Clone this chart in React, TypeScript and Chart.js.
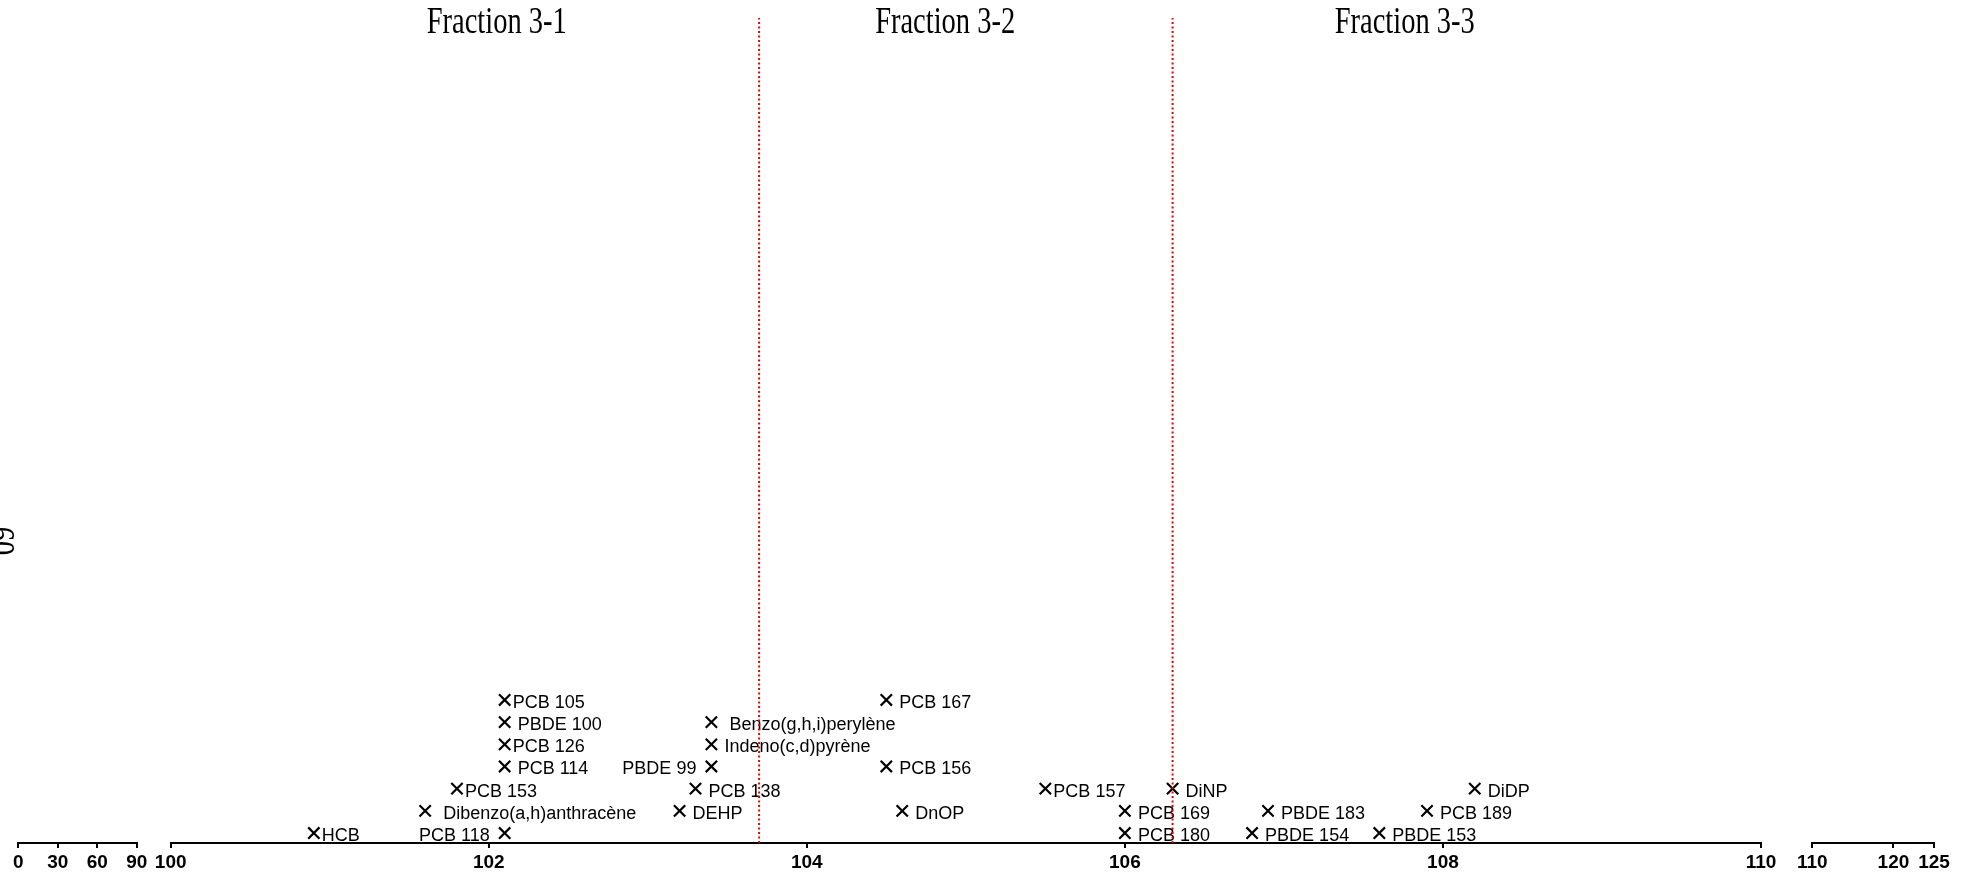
import React, { useEffect, useRef } from 'react';
import { Chart, registerables } from 'chart.js';

Chart.register(...registerables);

// ---------- data ----------
const compounds = [
  'HCB', 'PCB 118', 'Dibenzo(a,h)anthracène', 'PCB 153', 'PCB 114', 'PCB 126', 'PBDE 100', 'PCB 105',
  'DEHP', 'PCB 138', 'PBDE 99', 'Indeno(c,d)pyrène', 'Benzo(g,h,i)perylène', 'PCB 167', 'PCB 156',
  'DnOP', 'PCB 157', 'PCB 169', 'PCB 180', 'DiNP', 'PBDE 154', 'PBDE 183', 'PBDE 153', 'PCB 189', 'DiDP',
];
// label text as printed (leading/trailing spaces kept as in the figure)
const labelTexts = [
  'HCB', 'PCB 118 ', '  Dibenzo(a,h)anthracène', 'PCB 153', ' PCB 114', 'PCB 126', ' PBDE 100', 'PCB 105',
  ' DEHP', ' PCB 138', 'PBDE 99 ', ' Indeno(c,d)pyrène', '  Benzo(g,h,i)perylène', ' PCB 167', ' PCB 156',
  ' DnOP', 'PCB 157', ' PCB 169', ' PCB 180', ' DiNP', ' PBDE 154', ' PBDE 183', ' PBDE 153', ' PCB 189', ' DiDP',
];
const retentionTimes = [
  100.9, 102.1, 101.6, 101.8, 102.1, 102.1, 102.1, 102.1,
  103.2, 103.3, 103.4, 103.4, 103.4, 104.5, 104.5,
  104.6, 105.5, 106.0, 106.0, 106.3, 106.8, 106.9, 107.6, 107.9, 108.2,
];
const rowLevels = [
  1, 1, 2, 3, 4, 5, 6, 7,
  2, 3, 4, 5, 6, 7, 4,
  2, 3, 2, 1, 3, 1, 2, 1, 2, 3,
];
const labelSide = [
  'R', 'L', 'R', 'R', 'R', 'R', 'R', 'R',
  'R', 'R', 'L', 'R', 'R', 'R', 'R',
  'R', 'R', 'R', 'R', 'R', 'R', 'R', 'R', 'R', 'R',
];
const fractionNames = ['Fraction 3-1', 'Fraction 3-2', 'Fraction 3-3'];
const fractionLabelX = [102.05, 104.87, 107.76];
const fractionCuts = [103.7, 106.3];
const ticksLeft = [0, 30, 60, 90];
const ticksMain = [100, 102, 104, 106, 108, 110];
const ticksRight = [110, 120, 125];
const yTitle = '60';
const yRange = [0.55, 37.75];

// ---------- layout ----------
const W = 1978;
const H = 878;
const AXIS_Y = 843;
const TOP = 18;

const SANS = '"Liberation Sans", Arial, Helvetica, sans-serif';
const SERIF = '"Liberation Serif", "Times New Roman", Times, serif';

function xAxis(ticks: number[]) {
  return {
    type: 'linear' as const,
    min: ticks[0],
    max: ticks[ticks.length - 1],
    afterBuildTicks: (s: any) => {
      s.ticks = ticks.map((v) => ({ value: v }));
    },
    afterFit: (s: any) => {
      s.height = H - AXIS_Y;
    },
    grid: {
      display: true,
      drawOnChartArea: false,
      drawTicks: true,
      tickLength: 5,
      lineWidth: 2,
      color: '#000',
    },
    border: { display: true, color: '#000', width: 2 },
    ticks: {
      color: '#000',
      font: { family: SANS, size: 19, weight: 'bold' as const },
      padding: 3,
      maxRotation: 0,
      minRotation: 0,
      autoSkip: false,
    },
  };
}

const yAxis = { type: 'linear' as const, display: false, min: yRange[0], max: yRange[1] };

const textPlugin = {
  id: 'textLabels',
  beforeDatasetsDraw(chart: any) {
    const { ctx, scales } = chart;
    const x = scales.x;
    const y = scales.y;
    ctx.save();
    ctx.fillStyle = '#000';
    ctx.font = `18px ${SANS}`;
    ctx.textBaseline = 'alphabetic';
    compounds.forEach((_, i) => {
      const px = x.getPixelForValue(retentionTimes[i]);
      const py = y.getPixelForValue(rowLevels[i]) + 8;
      if (labelSide[i] === 'L') {
        ctx.textAlign = 'right';
        ctx.fillText(labelTexts[i], px - 10, py);
      } else {
        ctx.textAlign = 'left';
        ctx.fillText(labelTexts[i], px + 8, py);
      }
    });
    ctx.font = `38px ${SERIF}`;
    ctx.textAlign = 'center';
    fractionNames.forEach((t, i) => {
      ctx.save();
      ctx.translate(x.getPixelForValue(fractionLabelX[i]), 33);
      ctx.scale(0.75, 1);
      ctx.fillText(t, 0, 0);
      ctx.restore();
    });
    ctx.save();
    ctx.translate(-11, 541);
    ctx.rotate(Math.PI / 2);
    ctx.scale(0.75, 1);
    ctx.fillText(yTitle, 0, 0);
    ctx.restore();
    ctx.restore();
  },
};

function baseOptions(padLeft: number, padRight: number, ticks: number[]) {
  return {
    responsive: false,
    maintainAspectRatio: false,
    animation: false as const,
    devicePixelRatio: 1,
    events: [],
    layout: { padding: { left: padLeft, right: padRight, top: TOP, bottom: 0 } },
    plugins: { legend: { display: false }, tooltip: { enabled: false }, title: { display: false } },
    scales: { x: xAxis(ticks), y: yAxis },
  };
}

export default function App() {
  const mainRef = useRef<HTMLCanvasElement | null>(null);
  const leftRef = useRef<HTMLCanvasElement | null>(null);
  const rightRef = useRef<HTMLCanvasElement | null>(null);

  useEffect(() => {
    const charts: Chart[] = [];
    if (mainRef.current) {
      const cutSets = fractionCuts.map((c) => ({
        type: 'scatter' as const,
        data: [
          { x: c, y: yRange[0] },
          { x: c, y: yRange[1] },
        ],
        showLine: true,
        borderColor: 'rgb(235,0,0)',
        borderWidth: 2,
        borderDash: [2, 2.5],
        pointRadius: 0,
        fill: false,
      }));
      charts.push(
        new Chart(mainRef.current, {
          type: 'scatter',
          data: {
            datasets: [
              ...cutSets,
              {
                type: 'scatter' as const,
                data: retentionTimes.map((t, i) => ({ x: t, y: rowLevels[i] })),
                pointStyle: 'crossRot',
                pointRadius: 8,
                pointBorderWidth: 2.2,
                pointBorderColor: '#000',
                pointBackgroundColor: '#000',
                showLine: false,
              },
            ],
          },
          options: baseOptions(170.7, W - 1761, ticksMain) as any,
          plugins: [textPlugin],
        })
      );
    }
    if (leftRef.current) {
      charts.push(
        new Chart(leftRef.current, {
          type: 'scatter',
          data: { datasets: [] },
          options: baseOptions(18.3, 160 - 136.7, ticksLeft) as any,
        })
      );
    }
    if (rightRef.current) {
      charts.push(
        new Chart(rightRef.current, {
          type: 'scatter',
          data: { datasets: [] },
          options: baseOptions(1812.3 - 1780, 1978 - 1934, ticksRight) as any,
        })
      );
    }
    return () => charts.forEach((c) => c.destroy());
  }, []);

  return (
    <div style={{ position: 'fixed', left: 0, top: 0, width: W, height: H, background: '#fff', overflow: 'hidden' }}>
      <canvas ref={mainRef} width={W} height={H} style={{ position: 'absolute', left: 0, top: 0 }} />
      <canvas ref={leftRef} width={160} height={H} style={{ position: 'absolute', left: 0, top: 0 }} />
      <canvas ref={rightRef} width={198} height={H} style={{ position: 'absolute', left: 1780, top: 0 }} />
    </div>
  );
}
